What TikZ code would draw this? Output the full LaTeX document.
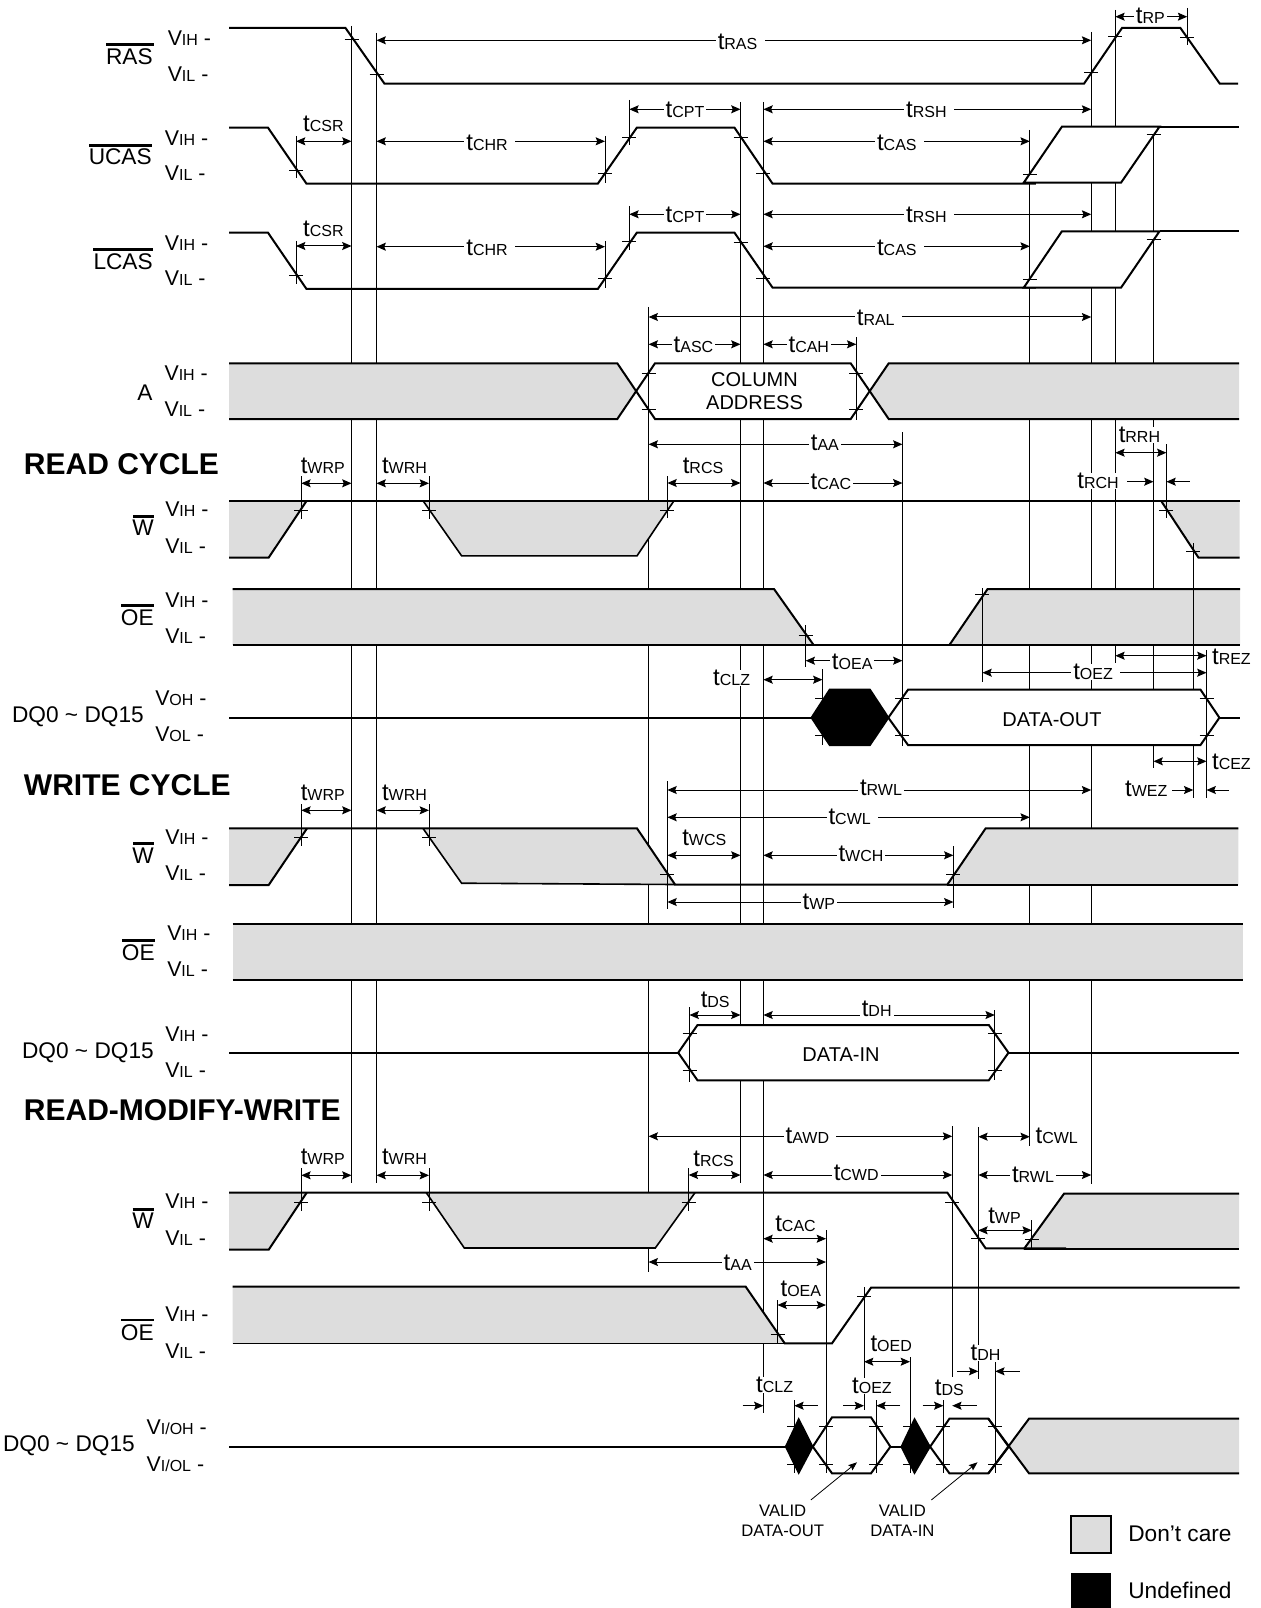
\documentclass[tikz,border=0pt]{standalone}
\usepackage{fontspec}
\setmainfont{Liberation Sans}
\usetikzlibrary{arrows.meta}
\definecolor{dontcare}{HTML}{DDDDDD}
\tikzset{
  sigline/.style={draw=black,line width=1.5pt,line join=miter},
  thinv/.style={draw=black,line width=0.75pt},
  tickm/.style={draw=black,line width=0.6pt},
  dimline/.style={draw=black,line width=0.75pt,{Stealth[length=7pt,width=6pt,inset=1.2pt]}-{Stealth[length=7pt,width=6pt,inset=1.2pt]}},
  oneway/.style={draw=black,line width=0.75pt,-{Stealth[length=7pt,width=6pt,inset=1.2pt]}},
  tlabel/.style={fill=white,inner xsep=1.5pt,inner ysep=0pt,anchor=center},
  sigtext/.style={inner sep=0pt,anchor=east,font=\fontsize{17}{18}\selectfont},
  lvl/.style={inner sep=0pt,anchor=west},
  heading/.style={inner sep=0pt,anchor=west,font=\bfseries\fontsize{22.5}{24}\selectfont},
  boxtext/.style={inner sep=0pt,align=center,font=\fontsize{15}{17.5}\selectfont},
  smalltext/.style={inner sep=0pt,align=center,font=\fontsize{12.5}{15}\selectfont},
  legendtext/.style={inner sep=0pt,anchor=west,font=\fontsize{17}{20}\selectfont},
  barline/.style={draw=black,line width=2pt},
}
\newcommand\tl[1]{{\fontsize{18}{18}\selectfont t}{\fontsize{12}{12}\selectfont #1}}
\newcommand\vl[1]{{\fontsize{16}{16}\selectfont V}{\fontsize{12}{12}\selectfont #1}{\fontsize{16}{16}\selectfont\ -}}
\newcommand\dimm[6]{\draw[dimline] (#1,#3)--(#2,#3); \node[tlabel] at (#5,#6) {\tl{#4}};}
\newcommand\dimg[6]{\draw[dimline] (#1,#3)--(#2,#3); \node[tlabel] at ({#5+2.5},#6) {\tl{#4}\kern4pt\relax};}
\newcommand\outr[3]{\draw[oneway] (#1,#3)--(#2,#3);}
\newcommand\lab[3]{\node[tlabel] at (#2,#3) {\tl{#1}};}
\newcommand\vv[3]{\draw[thinv] (#1,#2)--(#1,#3);}
\newcommand\tk[2]{\draw[tickm] ({#1-7},#2)--({#1+7},#2);}
\newcommand\lvls[5]{\node[lvl] at (#1,#2) {\vl{#4}}; \node[lvl] at (#1,#3) {\vl{#5}};}
\begin{document}
\begin{tikzpicture}[x=0.75pt,y=-0.75pt]
\useasboundingbox (0,0) rectangle (1260,1608);
% long vertical reference lines
\vv{351.5}{26}{1183}
\vv{376.5}{33}{1183}
\vv{648.6}{307}{1272}
\vv{740.5}{102}{1183}
\vv{763.4}{102}{1413}
\vv{902.4}{432}{746}
\vv{1029.8}{130}{1146}
\vv{1091.2}{32}{1184}
\vv{1115.3}{10}{663}
\vv{1153.5}{126}{768}
\vv{1166.4}{444}{518}
\vv{1193.3}{543}{798}
\vv{1206.5}{650}{798}
\vv{1187.2}{8}{45}
\vv{296}{136}{178}
\vv{605}{136}{183}
\vv{296}{241}{284}
\vv{605}{241}{288}
\vv{629.3}{100}{145}
\vv{629.3}{206}{250}
\vv{856.3}{337}{420}
\vv{301.3}{476}{519}
\vv{429}{476}{519}
\vv{667.4}{476}{518}
\vv{982.4}{588}{682}
\vv{805.6}{625}{667}
\vv{822.4}{669}{745}
\vv{301.3}{804}{846}
\vv{429}{804}{846}
\vv{667.4}{781}{909}
\vv{953.4}{846}{908}
\vv{689.5}{1007}{1082}
\vv{994.8}{1010}{1080}
\vv{952.2}{1126}{1377}
\vv{978.3}{1127}{1379}
\vv{301.3}{1168}{1211}
\vv{429}{1168}{1211}
\vv{688.7}{1168}{1211}
\vv{1031.8}{1220}{1248}
\vv{826}{1230}{1473}
\vv{777.5}{1300}{1343}
\vv{864}{1287}{1410}
\vv{910}{1357}{1473}
\vv{794.3}{1400}{1473}
\vv{876.3}{1400}{1473}
\vv{943.4}{1400}{1473}
\vv{995.2}{1362}{1473}
% dimension arrows
\dimg{376.5}{1091.2}{40.3}{RAS}{737.7}{42.3}
\dimm{1115.3}{1187.2}{16.7}{RP}{1150.3}{15.7}
\dimm{296}{351.5}{141.3}{CSR}{323.4}{124}
\dimg{376.5}{605}{141.3}{CHR}{487.3}{143.3}
\dimm{629.3}{740.5}{109.3}{CPT}{685}{110}
\dimg{763.4}{1091.2}{109.3}{RSH}{926.5}{110}
\dimg{763.4}{1029.8}{141.3}{CAS}{897}{143}
\dimm{296}{351.5}{246}{CSR}{323.4}{229}
\dimg{376.5}{605}{246.7}{CHR}{487.3}{248.3}
\dimm{629.3}{740.5}{214.3}{CPT}{685}{215}
\dimg{763.4}{1091.2}{214.3}{RSH}{926.5}{215}
\dimg{763.4}{1029.8}{246.3}{CAS}{897}{248.3}
\dimg{648.6}{1091.2}{317}{RAL}{875.9}{317.7}
\dimm{648.6}{740.5}{344.3}{ASC}{693.5}{345}
\dimm{763.4}{856.3}{344.3}{CAH}{808.8}{345}
\dimm{301.3}{351.5}{483.3}{WRP}{322.8}{466.3}
\dimm{376.5}{429}{483.3}{WRH}{404.5}{466.3}
\dimm{667.4}{740.5}{483}{RCS}{703}{466}
\dimm{648.6}{902.4}{444.3}{AA}{824.9}{442.7}
\dimm{763.4}{902.4}{483}{CAC}{830.9}{481.7}
\dimm{1115.3}{1166.4}{452.7}{RRH}{1139.4}{435.3}
\outr{1127}{1153.5}{481.7}\outr{1189.7}{1166.4}{481.7}
\lab{RCH}{1098}{480.7}
\dimm{805.6}{902.4}{660.7}{OEA}{852.2}{661.7}
\dimm{763.4}{822.4}{679.7}{CLZ}{731.6}{678.3}
\dimm{1115.3}{1206.5}{655.7}{REZ}{1231.4}{656.7}
\dimg{982.4}{1206.5}{672.7}{OEZ}{1093.2}{672.3}
\dimm{1153.5}{1206.5}{761.3}{CEZ}{1231.4}{762.3}
\dimm{667.4}{1091.2}{790}{RWL}{881}{788.3}
\outr{1172.4}{1193.3}{790}\outr{1228.6}{1206.5}{790}
\lab{WEZ}{1146.3}{789.3}
\dimg{667.4}{1029.8}{817.3}{CWL}{849.8}{817.3}
\dimm{667.4}{740.5}{855.3}{WCS}{704.3}{838.3}
\dimm{763.4}{953.4}{855.3}{WCH}{861}{854.3}
\dimm{667.4}{953.4}{902}{WP}{818.8}{902}
\dimm{301.3}{351.5}{810.3}{WRP}{322.8}{793.3}
\dimm{376.5}{429}{810.3}{WRH}{404.5}{793.3}
\dimm{689.5}{740.5}{1015}{DS}{715.2}{1000}
\dimm{763.4}{994.8}{1015}{DH}{876.7}{1009}
\dimg{648.6}{952.2}{1136.3}{AWD}{807.6}{1136}
\dimm{978.3}{1029.8}{1136.7}{CWL}{1056.7}{1135.7}
\dimm{688.7}{740.5}{1175}{RCS}{713.6}{1159}
\dimm{763.4}{952.2}{1175}{CWD}{856.2}{1173.3}
\dimm{978.3}{1091.2}{1175}{RWL}{1033}{1175}
\dimm{301.3}{351.5}{1175.3}{WRP}{322.8}{1157.3}
\dimm{376.5}{429}{1175.3}{WRH}{404.5}{1157.3}
\dimm{978.3}{1031.8}{1230.3}{WP}{1004.5}{1216}
\dimm{763.4}{826}{1238.7}{CAC}{795.5}{1224}
\dimm{648.6}{826}{1262}{AA}{737.7}{1262.7}
\dimm{777.5}{826}{1305}{OEA}{800.8}{1289}
\dimm{864}{910}{1361.7}{OED}{891.2}{1344.3}
\outr{957.4}{978.3}{1371.3}\outr{1019.7}{995.2}{1371.3}
\lab{DH}{985.6}{1352.7}
\outr{742.5}{763.4}{1405.7}\outr{817.6}{794.3}{1405.7}
\lab{CLZ}{774.6}{1385}
\outr{843}{864}{1405.7}\outr{900}{876.3}{1405.7}
\lab{OEZ}{871.9}{1386}
\outr{922.5}{943.4}{1405.7}\outr{976.7}{952.2}{1405.7}
\lab{DS}{949.4}{1387.7}
% RAS
\draw[sigline] (229,28)--(345.5,28)--(384.5,83.7)--(1084,83.7)--(1122,28)--(1180.4,28)--(1219.8,83.7)--(1238,83.7);
% UCAS
\draw[sigline] (229,127.7)--(268,127.7)--(306.5,183.7)--(597.8,183.7)--(636.8,127.7)--(734.5,127.7)--(772.6,183.7)--(1035.8,183.7);
\draw[sigline,fill=white] (1023.7,182.7)--(1061.9,126.7)--(1159.5,126.7)--(1121,182.7)--cycle;
\draw[sigline] (1159.5,126.7)--(1239,126.7);
% LCAS
\draw[sigline] (229,232.7)--(268,232.7)--(306.5,289)--(597.8,289)--(636.8,232.7)--(734.5,232.7)--(772.6,287.7)--(1035.8,287.7);
\draw[sigline,fill=white] (1023.7,287.7)--(1061.9,231.3)--(1159.5,231.3)--(1121,287.7)--cycle;
\draw[sigline] (1159.5,231.3)--(1239,231.3);
% A
\fill[dontcare] (229,363.3)--(617.3,363.3)--(636,391)--(617.3,419)--(229,419)--cycle;
\fill[white] (636,391)--(655,363.3)--(850.7,363.3)--(869.3,391)--(850.7,419)--(655,419)--cycle;
\fill[dontcare] (869.3,391)--(888.7,363.3)--(1239,363.3)--(1239,419)--(888.7,419)--cycle;
\draw[sigline] (229,363.3)--(617.3,363.3)--(655,419)--(850.7,419)--(888.7,363.3)--(1239,363.3);
\draw[sigline] (229,419)--(617.3,419)--(655,363.3)--(850.7,363.3)--(888.7,419)--(1239,419);
% read W
\fill[dontcare] (229,500.7)--(306.7,500.7)--(268.7,557.6)--(229,557.6)--cycle;
\fill[dontcare] (423,500.7)--(674,500.7)--(637,555.8)--(461.6,555.8)--cycle;
\fill[dontcare] (1161,500.7)--(1239.5,500.7)--(1239.5,557.7)--(1198.5,557.7)--cycle;
\draw[sigline] (229,500.7)--(1239.5,500.7);
\draw[sigline] (229,557.6)--(268.7,557.6)--(306.7,500.7);
\draw[sigline,line width=1.2pt] (423,500.7)--(461.6,555.8)--(637,555.8)--(674,500.7);
\draw[sigline] (1161,500.7)--(1198.5,557.7)--(1239.5,557.7);
% read OE
\fill[dontcare] (232.6,589)--(774,589)--(813.6,645)--(232.6,645)--cycle;
\fill[dontcare] (949.4,645)--(987.6,589)--(1240,589)--(1240,645)--cycle;
\draw[sigline] (232.6,589)--(774,589)--(813.6,645);
\draw[sigline] (232.6,645)--(1240,645);
\draw[sigline] (949.4,645)--(987.6,589)--(1240,589);
% read DQ
\draw[sigline] (229,717.7)--(811.6,717.7);
\filldraw[sigline,fill=black] (811.6,717.7)--(829.7,689.7)--(869.9,689.7)--(888.3,717.7)--(869.9,745)--(829.7,745)--cycle;
\draw[sigline,fill=white] (888.3,717.7)--(908,689.7)--(1200.5,689.7)--(1219.4,717.7)--(1200.5,745)--(908,745)--cycle;
\draw[sigline] (1219.4,717.7)--(1239.5,717.7);
% write W
\fill[dontcare] (229,828.4)--(307,828.4)--(268.7,885)--(229,885)--cycle;
\fill[dontcare] (423,828.4)--(637,828.4)--(675,884)--(461.6,883.2)--cycle;
\fill[dontcare] (947.4,885)--(985.6,828.4)--(1238.3,828.4)--(1238.3,885)--cycle;
\draw[sigline] (229,828.4)--(637,828.4)--(675,884.5)--(947.4,884.5)--(985.6,828.4)--(1238.3,828.4);
\draw[sigline] (229,885)--(268.7,885)--(307,828.4);
\draw[sigline,line width=1.2pt] (423,828.4)--(461.6,883.2)--(675,884.5);
\draw[sigline,line width=1.2pt] (947.4,885)--(1238.3,885);
% write OE
\fill[dontcare] (232.6,923.7) rectangle (1242.7,979.7);
\draw[sigline] (232.6,923.7)--(1242.7,923.7);
\draw[sigline] (232.6,979.7)--(1242.7,979.7);
% write DQ
\draw[sigline] (229,1052.7)--(678.2,1052.7);
\draw[sigline,fill=white] (678.2,1052.7)--(697.5,1025)--(988.8,1025)--(1008.5,1052.7)--(988.8,1080.3)--(697.5,1080.3)--cycle;
\draw[sigline] (1008.5,1052.7)--(1239,1052.7);
% RMW W
\fill[dontcare] (229,1192.7)--(306.7,1192.7)--(268.7,1249.7)--(229,1249.7)--cycle;
\fill[dontcare] (426.3,1192.7)--(695,1192.7)--(655.3,1248)--(464.3,1248)--cycle;
\fill[dontcare] (1023.7,1249.3)--(1064,1193.7)--(1239,1193.7)--(1239,1249.3)--cycle;
\draw[sigline] (229,1192.7)--(947.4,1192.7)--(985.6,1248.3)--(1066,1248.3);
\draw[sigline] (229,1249.7)--(268.7,1249.7)--(306.7,1192.7);
\draw[sigline,line width=1.2pt] (426.3,1192.7)--(464.3,1248)--(655.3,1248)--(695,1192.7);
\draw[sigline] (1023.7,1249.3)--(1064,1193.7)--(1239,1193.7);
\draw[sigline] (1023.7,1249.3)--(1239,1249.3);
% RMW OE
\fill[dontcare] (232.6,1286.7)--(745.7,1286.7)--(784.7,1343.3)--(232.6,1343.3)--cycle;
\draw[sigline] (232.6,1286.7)--(745.7,1286.7)--(784.7,1343.3)--(832,1343.3)--(871,1287.7)--(1239.5,1287.7);
\draw[sigline,line width=1.2pt] (232.6,1343.3)--(784.7,1343.3);
% RMW DQ
\draw[sigline] (229,1446.7)--(785.5,1446.7);
\filldraw[sigline,line width=1pt,fill=black] (785.5,1446.7)--(798.7,1418.7)--(812.8,1446.7)--(798.7,1473.3)--cycle;
\draw[sigline,fill=white] (812.8,1446.7)--(832,1417.3)--(871,1417.3)--(890.4,1446.7)--(871,1473.3)--(832,1473.3)--cycle;
\draw[sigline] (890.4,1446.7)--(901.2,1446.7);
\filldraw[sigline,line width=1pt,fill=black] (901.2,1446.7)--(914.5,1418.7)--(930.1,1446.7)--(914.5,1473.3)--cycle;
\fill[dontcare] (1008.7,1446.7)--(1029,1418.7)--(1239,1418.7)--(1239,1473.3)--(1029,1473.3)--cycle;
\draw[sigline,fill=white] (930.1,1446.7)--(949.4,1418.7)--(988.4,1418.7)--(1008.7,1446.7)--(988.4,1473.3)--(949.4,1473.3)--cycle;
\draw[sigline] (988.4,1418.7)--(1029,1473.3)--(1239,1473.3);
\draw[sigline] (988.4,1473.3)--(1029,1418.7)--(1239,1418.7);
% verticals visible over the fills
\vv{648.6}{363}{419}\vv{856.3}{363}{419}
\vv{902.4}{690}{745}\vv{1206.5}{690}{745}
\vv{689.5}{1025}{1080}\vv{994.8}{1025}{1080}
\vv{826}{1417}{1473}\vv{876.3}{1417}{1473}
\vv{943.4}{1418}{1473}\vv{995.2}{1418}{1473}
\vv{1193.3}{543}{645}\vv{982.4}{589}{645}\vv{805.6}{625}{645}
\vv{301.3}{500}{519}\vv{429}{500}{519}\vv{667.4}{500}{518}\vv{1166.4}{500}{518}
\vv{301.3}{828}{846}\vv{429}{828}{846}\vv{667.4}{828}{884}\vv{953.4}{860}{884}
\vv{301.3}{1192}{1211}\vv{429}{1192}{1211}\vv{688.7}{1192}{1211}\vv{1031.8}{1225}{1248}
\vv{777.5}{1320}{1343}
% tick marks
\tk{351.5}{39}\tk{376.5}{74}\tk{1091.2}{72}\tk{1115.3}{36}\tk{1187.2}{37}
\tk{296}{170.7}\tk{605}{173.3}\tk{629.3}{137.7}\tk{740.5}{137.3}\tk{763.4}{173.3}\tk{1029.8}{174.3}\tk{1153.5}{134.3}
\tk{296}{275.7}\tk{605}{278.3}\tk{629.3}{241.7}\tk{740.5}{242.3}\tk{763.4}{278.3}\tk{1029.8}{279.3}\tk{1153.5}{239}
\tk{648.6}{373.3}\tk{648.6}{409.3}\tk{856.3}{373.3}\tk{856.3}{409.3}
\tk{301.3}{510.3}\tk{429}{510.3}\tk{667.4}{510.3}\tk{1166.4}{510.7}\tk{1193.3}{551.7}
\tk{805.6}{635}\tk{982.4}{594.3}
\tk{822.4}{698.3}\tk{822.4}{735}\tk{902.4}{698.3}\tk{902.4}{735}\tk{1206.5}{698.3}\tk{1206.5}{735}
\tk{301.3}{837}\tk{429}{837}\tk{667.4}{874.7}\tk{953.4}{874}
\tk{689.5}{1033.7}\tk{689.5}{1070}\tk{994.8}{1033.7}\tk{994.8}{1070}
\tk{301.3}{1202.3}\tk{429}{1202.3}\tk{688.7}{1202.3}\tk{952.2}{1202.3}\tk{978.3}{1238.3}\tk{1031.8}{1239}
\tk{777.5}{1334}\tk{864}{1296.7}
\foreach \tx in {794.3,826,876.3,910,943.4,995.2}{\tk{\tx}{1426.7}\tk{\tx}{1464}}
% shape texts
\node[boxtext] (coladdr) at (754.5,391) {COLUMN\\[0pt]ADDRESS};
\node[boxtext] (dataout) at (1052,720) {DATA-OUT};
\node[boxtext] (datain) at (841,1055) {DATA-IN};
% level labels
\lvls{167.5}{38.3}{74}{IH}{IL}
\lvls{164.7}{137.7}{173.3}{IH}{IL}
\lvls{164.7}{242.7}{278.3}{IH}{IL}
\lvls{164.3}{372.7}{409.3}{IH}{IL}
\lvls{165}{508.8}{545.8}{IH}{IL}
\lvls{165}{600.2}{636}{IH}{IL}
\lvls{155}{698.2}{734.5}{OH}{OL}
\lvls{165}{837}{873.2}{IH}{IL}
\lvls{167}{933}{969.4}{IH}{IL}
\lvls{165}{1034.3}{1070}{IH}{IL}
\lvls{165}{1201}{1238.3}{IH}{IL}
\lvls{165}{1314.3}{1351}{IH}{IL}
\lvls{146.4}{1427.3}{1464.3}{I/OH}{I/OL}
% signal names
\node[sigtext] (ras) at (153,57) {RAS}; \draw[barline] (106,44.3)--(154,44.3);
\node[sigtext] (ucas) at (152,156.7) {UCAS}; \draw[barline] (89,145.3)--(152,145.3);
\node[sigtext] (lcas) at (153,261.7) {LCAS}; \draw[barline] (93,249.3)--(153,249.3);
\node[sigtext] (addr) at (152.7,392.3) {A};
\node[sigtext] (w1) at (154,528) {W}; \draw[barline] (133,516.6)--(154,516.6);
\node[sigtext] (oe1) at (154,618) {OE}; \draw[barline] (121.4,605.4)--(154,605.4);
\node[sigtext] (dq1) at (144,716.7) {DQ0 \textasciitilde\ DQ15};
\node[sigtext] (w2) at (154,855.4) {W}; \draw[barline] (133,843.2)--(154,843.2);
\node[sigtext] (oe2) at (155,952.4) {OE}; \draw[barline] (122,940.5)--(155,940.5);
\node[sigtext] (dq2) at (154,1052.3) {DQ0 \textasciitilde\ DQ15};
\node[sigtext] (w3) at (154,1221) {W}; \draw[barline] (132.6,1209.3)--(154,1209.3);
\node[sigtext] (oe3) at (154,1332.7) {OE}; \draw[barline] (121.4,1320)--(154,1320);
\node[sigtext] (dq3) at (135,1446) {DQ0 \textasciitilde\ DQ15};
% headings
\node[heading] (h1) at (23.7,464.4) {READ CYCLE};
\node[heading] (h2) at (23.7,785) {WRITE CYCLE};
\node[heading] (h3) at (23.7,1110) {READ-MODIFY-WRITE};
% valid labels
\node[smalltext] (vo) at (782.7,1521) {VALID\\DATA-OUT};
\node[smalltext] (vi) at (902.4,1521) {VALID\\DATA-IN};
\draw[draw=black,line width=0.6pt,-{Stealth[length=6.5pt,width=5pt,inset=1pt]}] (810.8,1500)--(857,1462.3);
\draw[draw=black,line width=0.6pt,-{Stealth[length=6.5pt,width=5pt,inset=1pt]}] (931.3,1500)--(977.5,1462.3);
% legend
\draw[sigline,fill=dontcare] (1071,1516) rectangle (1111,1553);
\fill[black] (1071,1572.7) rectangle (1111.3,1608);
\node[legendtext] (l1) at (1128,1534) {Don’t care};
\node[legendtext] (l2) at (1128,1590) {Undefined};
\end{tikzpicture}
\end{document}
